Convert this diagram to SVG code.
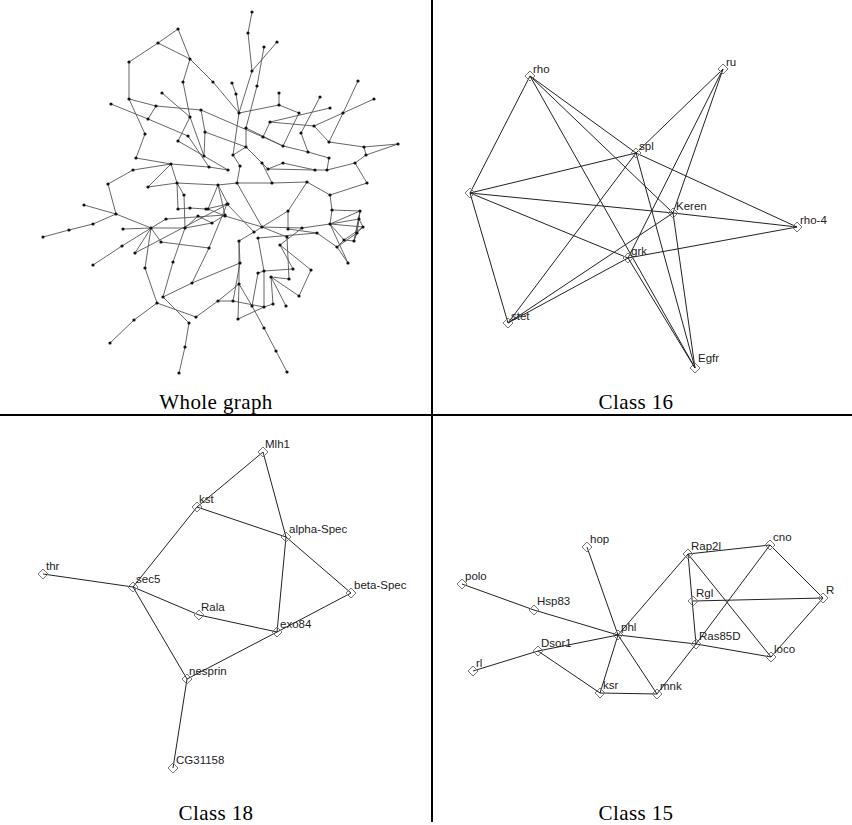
<svg xmlns="http://www.w3.org/2000/svg" xmlns:xlink="http://www.w3.org/1999/xlink" width="852" height="825" viewBox="0 0 852 825">
<style>
.bg{fill:#fff}
.div{stroke:#000;stroke-width:2}
.cap{font-family:"Liberation Serif","DejaVu Serif",serif;font-size:21px;fill:#000;text-anchor:middle;letter-spacing:0.4px}
.we line{stroke:#555;stroke-width:0.9}
.wn circle{fill:#111}
.ce line{stroke:#222;stroke-width:1}
.lab{font-family:"Liberation Sans","DejaVu Sans",sans-serif;font-size:11.5px;fill:#222}
.dm{fill:none;stroke:#777;stroke-width:1}
</style>
<defs>
<polygon id="dia" class="dm" points="0,-5 5,0 0,5 -5,0"/>
</defs>
<rect class="bg" x="0" y="0" width="852" height="825"/>

<!-- Whole graph edges -->
<g id="whole-connectors" class="we">
<line x1="178" y1="29" x2="158" y2="43"/><line x1="158" y1="43" x2="129" y2="62"/><line x1="178" y1="29" x2="190" y2="59"/><line x1="158" y1="43" x2="190" y2="59"/>
<line x1="190" y1="59" x2="183" y2="82"/><line x1="190" y1="59" x2="213" y2="82"/><line x1="213" y1="82" x2="239" y2="113"/><line x1="129" y1="62" x2="129" y2="99"/>
<line x1="129" y1="99" x2="156" y2="106"/><line x1="156" y1="106" x2="201" y2="110"/><line x1="201" y1="110" x2="263" y2="137"/><line x1="129" y1="99" x2="145" y2="134"/>
<line x1="156" y1="106" x2="148" y2="119"/><line x1="111" y1="104" x2="148" y2="119"/><line x1="148" y1="119" x2="188" y2="136"/><line x1="162" y1="93" x2="190" y2="117"/>
<line x1="183" y1="82" x2="190" y2="117"/><line x1="190" y1="117" x2="204" y2="156"/><line x1="205" y1="132" x2="204" y2="156"/><line x1="178" y1="141" x2="204" y2="156"/>
<line x1="204" y1="156" x2="228" y2="170"/><line x1="145" y1="134" x2="136" y2="158"/><line x1="136" y1="158" x2="171" y2="164"/><line x1="133" y1="170" x2="171" y2="164"/>
<line x1="108" y1="184" x2="133" y2="170"/><line x1="148" y1="187" x2="171" y2="164"/><line x1="177" y1="183" x2="171" y2="164"/><line x1="171" y1="164" x2="209" y2="167"/>
<line x1="209" y1="167" x2="228" y2="170"/><line x1="188" y1="136" x2="209" y2="167"/><line x1="178" y1="141" x2="190" y2="117"/><line x1="201" y1="110" x2="205" y2="132"/>
<line x1="252" y1="12" x2="248" y2="33"/><line x1="248" y1="33" x2="252" y2="71"/><line x1="277" y1="42" x2="252" y2="71"/><line x1="264" y1="47" x2="257" y2="86"/>
<line x1="252" y1="71" x2="239" y2="113"/><line x1="257" y1="86" x2="246" y2="128"/><line x1="232" y1="83" x2="236" y2="94"/><line x1="236" y1="94" x2="239" y2="113"/>
<line x1="279" y1="93" x2="279" y2="105"/><line x1="239" y1="113" x2="279" y2="105"/><line x1="279" y1="105" x2="299" y2="113"/><line x1="320" y1="97" x2="301" y2="133"/>
<line x1="330" y1="108" x2="270" y2="122"/><line x1="299" y1="113" x2="283" y2="146"/><line x1="358" y1="81" x2="343" y2="113"/><line x1="343" y1="113" x2="329" y2="142"/>
<line x1="374" y1="99" x2="343" y2="113"/><line x1="343" y1="113" x2="314" y2="126"/><line x1="270" y1="122" x2="263" y2="137"/><line x1="314" y1="126" x2="329" y2="142"/>
<line x1="329" y1="142" x2="364" y2="147"/><line x1="364" y1="147" x2="398" y2="144"/><line x1="364" y1="147" x2="366" y2="155"/><line x1="366" y1="155" x2="355" y2="163"/>
<line x1="308" y1="152" x2="283" y2="146"/><line x1="263" y1="137" x2="283" y2="146"/><line x1="308" y1="152" x2="329" y2="158"/><line x1="246" y1="128" x2="246" y2="147"/>
<line x1="246" y1="147" x2="262" y2="163"/><line x1="239" y1="113" x2="233" y2="155"/><line x1="233" y1="155" x2="240" y2="166"/><line x1="262" y1="163" x2="268" y2="169"/>
<line x1="283" y1="163" x2="268" y2="169"/><line x1="268" y1="169" x2="315" y2="170"/><line x1="315" y1="170" x2="327" y2="170"/><line x1="327" y1="170" x2="355" y2="163"/>
<line x1="355" y1="163" x2="367" y2="183"/><line x1="367" y1="183" x2="330" y2="195"/><line x1="272" y1="183" x2="237" y2="183"/><line x1="237" y1="183" x2="218" y2="185"/>
<line x1="272" y1="183" x2="307" y2="182"/><line x1="307" y1="182" x2="330" y2="195"/><line x1="301" y1="133" x2="308" y2="152"/><line x1="270" y1="122" x2="314" y2="126"/>
<line x1="398" y1="144" x2="366" y2="155"/><line x1="329" y1="158" x2="327" y2="170"/><line x1="246" y1="128" x2="283" y2="146"/><line x1="246" y1="147" x2="233" y2="155"/>
<line x1="283" y1="163" x2="315" y2="170"/><line x1="240" y1="166" x2="237" y2="183"/><line x1="262" y1="163" x2="272" y2="183"/><line x1="205" y1="132" x2="246" y2="147"/>
<line x1="108" y1="184" x2="116" y2="214"/><line x1="84" y1="205" x2="116" y2="214"/><line x1="116" y1="214" x2="93" y2="224"/><line x1="93" y1="224" x2="69" y2="230"/>
<line x1="69" y1="230" x2="43" y2="237"/><line x1="116" y1="214" x2="151" y2="228"/><line x1="123" y1="229" x2="151" y2="228"/><line x1="151" y1="228" x2="185" y2="228"/>
<line x1="151" y1="228" x2="135" y2="253"/><line x1="135" y1="253" x2="228" y2="204"/><line x1="93" y1="265" x2="122" y2="246"/><line x1="122" y1="246" x2="151" y2="228"/>
<line x1="145" y1="268" x2="157" y2="303"/><line x1="151" y1="228" x2="145" y2="268"/><line x1="185" y1="228" x2="173" y2="262"/><line x1="173" y1="262" x2="163" y2="297"/>
<line x1="163" y1="297" x2="189" y2="323"/><line x1="157" y1="303" x2="134" y2="320"/><line x1="134" y1="320" x2="110" y2="343"/><line x1="157" y1="303" x2="196" y2="317"/>
<line x1="196" y1="317" x2="218" y2="301"/><line x1="189" y1="323" x2="185" y2="347"/><line x1="185" y1="347" x2="179" y2="373"/><line x1="209" y1="248" x2="192" y2="283"/>
<line x1="209" y1="248" x2="227" y2="204"/><line x1="177" y1="183" x2="178" y2="209"/><line x1="178" y1="209" x2="190" y2="208"/><line x1="190" y1="208" x2="206" y2="209"/>
<line x1="206" y1="209" x2="228" y2="204"/><line x1="198" y1="216" x2="212" y2="223"/><line x1="212" y1="223" x2="225" y2="215"/><line x1="185" y1="228" x2="198" y2="216"/>
<line x1="185" y1="228" x2="184" y2="195"/><line x1="184" y1="195" x2="177" y2="183"/><line x1="166" y1="219" x2="151" y2="228"/><line x1="166" y1="219" x2="225" y2="215"/>
<line x1="228" y1="204" x2="218" y2="185"/><line x1="225" y1="215" x2="218" y2="185"/><line x1="161" y1="242" x2="151" y2="228"/><line x1="161" y1="242" x2="209" y2="248"/>
<line x1="192" y1="283" x2="163" y2="297"/><line x1="177" y1="183" x2="218" y2="185"/><line x1="148" y1="187" x2="177" y2="183"/><line x1="185" y1="228" x2="212" y2="223"/>
<line x1="237" y1="183" x2="262" y2="227"/><line x1="307" y1="182" x2="288" y2="211"/><line x1="288" y1="211" x2="262" y2="227"/><line x1="330" y1="195" x2="332" y2="210"/>
<line x1="332" y1="210" x2="330" y2="224"/><line x1="288" y1="211" x2="288" y2="229"/><line x1="262" y1="227" x2="302" y2="228"/><line x1="302" y1="228" x2="330" y2="224"/>
<line x1="330" y1="224" x2="360" y2="211"/><line x1="330" y1="224" x2="359" y2="219"/><line x1="330" y1="224" x2="363" y2="227"/><line x1="360" y1="211" x2="359" y2="219"/>
<line x1="359" y1="219" x2="363" y2="227"/><line x1="363" y1="227" x2="357" y2="233"/><line x1="357" y1="233" x2="354" y2="241"/><line x1="354" y1="241" x2="344" y2="240"/>
<line x1="344" y1="240" x2="337" y2="247"/><line x1="360" y1="211" x2="357" y2="233"/><line x1="359" y1="219" x2="354" y2="241"/><line x1="332" y1="210" x2="360" y2="211"/>
<line x1="330" y1="224" x2="344" y2="240"/><line x1="363" y1="227" x2="344" y2="240"/><line x1="360" y1="211" x2="354" y2="241"/><line x1="357" y1="233" x2="337" y2="247"/>
<line x1="337" y1="247" x2="348" y2="263"/><line x1="348" y1="263" x2="330" y2="224"/><line x1="317" y1="233" x2="258" y2="238"/><line x1="311" y1="270" x2="280" y2="245"/>
<line x1="287" y1="237" x2="262" y2="227"/><line x1="239" y1="241" x2="239" y2="284"/><line x1="239" y1="284" x2="238" y2="319"/><line x1="239" y1="284" x2="218" y2="301"/>
<line x1="238" y1="319" x2="264" y2="307"/><line x1="252" y1="306" x2="264" y2="328"/><line x1="264" y1="328" x2="276" y2="351"/><line x1="276" y1="351" x2="287" y2="372"/>
<line x1="252" y1="306" x2="239" y2="284"/><line x1="258" y1="238" x2="264" y2="271"/><line x1="264" y1="271" x2="264" y2="307"/><line x1="264" y1="271" x2="293" y2="269"/>
<line x1="271" y1="277" x2="289" y2="279"/><line x1="271" y1="277" x2="273" y2="304"/><line x1="271" y1="277" x2="299" y2="296"/><line x1="258" y1="273" x2="252" y2="306"/>
<line x1="233" y1="301" x2="264" y2="307"/><line x1="208" y1="209" x2="225" y2="216"/><line x1="225" y1="216" x2="262" y2="227"/><line x1="227" y1="204" x2="254" y2="232"/>
<line x1="254" y1="232" x2="262" y2="227"/><line x1="239" y1="241" x2="254" y2="232"/><line x1="240" y1="263" x2="239" y2="241"/><line x1="240" y1="263" x2="192" y2="283"/>
<line x1="280" y1="245" x2="302" y2="228"/><line x1="288" y1="229" x2="317" y2="233"/><line x1="317" y1="233" x2="337" y2="247"/><line x1="299" y1="296" x2="311" y2="270"/>
<line x1="293" y1="269" x2="280" y2="245"/><line x1="289" y1="279" x2="287" y2="237"/><line x1="286" y1="306" x2="271" y2="277"/><line x1="273" y1="304" x2="264" y2="307"/>
<line x1="218" y1="301" x2="233" y2="301"/><line x1="233" y1="301" x2="240" y2="263"/><line x1="208" y1="209" x2="218" y2="185"/><line x1="258" y1="273" x2="264" y2="271"/>
</g>

<!-- Whole graph nodes -->
<g id="whole-nodes" class="wn">
<circle cx="178" cy="29" r="1.6"/><circle cx="158" cy="43" r="1.6"/><circle cx="129" cy="62" r="1.6"/><circle cx="190" cy="59" r="1.6"/><circle cx="183" cy="82" r="1.6"/>
<circle cx="213" cy="82" r="1.6"/><circle cx="129" cy="99" r="1.6"/><circle cx="111" cy="104" r="1.6"/><circle cx="162" cy="93" r="1.6"/><circle cx="156" cy="106" r="1.6"/>
<circle cx="201" cy="110" r="1.6"/><circle cx="148" cy="119" r="1.6"/><circle cx="190" cy="117" r="1.6"/><circle cx="145" cy="134" r="1.6"/><circle cx="188" cy="136" r="1.6"/>
<circle cx="178" cy="141" r="1.6"/><circle cx="205" cy="132" r="1.6"/><circle cx="204" cy="156" r="1.6"/><circle cx="136" cy="158" r="1.6"/><circle cx="171" cy="164" r="1.6"/>
<circle cx="133" cy="170" r="1.6"/><circle cx="108" cy="184" r="1.6"/><circle cx="148" cy="187" r="1.6"/><circle cx="177" cy="183" r="1.6"/><circle cx="209" cy="167" r="1.6"/>
<circle cx="228" cy="170" r="1.6"/><circle cx="218" cy="185" r="1.6"/><circle cx="252" cy="12" r="1.6"/><circle cx="248" cy="33" r="1.6"/><circle cx="264" cy="47" r="1.6"/>
<circle cx="277" cy="42" r="1.6"/><circle cx="252" cy="71" r="1.6"/><circle cx="257" cy="86" r="1.6"/><circle cx="232" cy="83" r="1.6"/><circle cx="236" cy="94" r="1.6"/>
<circle cx="279" cy="93" r="1.6"/><circle cx="239" cy="113" r="1.6"/><circle cx="279" cy="105" r="1.6"/><circle cx="320" cy="97" r="1.6"/><circle cx="330" cy="108" r="1.6"/>
<circle cx="299" cy="113" r="1.6"/><circle cx="358" cy="81" r="1.6"/><circle cx="374" cy="99" r="1.6"/><circle cx="343" cy="113" r="1.6"/><circle cx="246" cy="128" r="1.6"/>
<circle cx="270" cy="122" r="1.6"/><circle cx="314" cy="126" r="1.6"/><circle cx="263" cy="137" r="1.6"/><circle cx="301" cy="133" r="1.6"/><circle cx="283" cy="146" r="1.6"/>
<circle cx="329" cy="142" r="1.6"/><circle cx="364" cy="147" r="1.6"/><circle cx="398" cy="144" r="1.6"/><circle cx="366" cy="155" r="1.6"/><circle cx="308" cy="152" r="1.6"/>
<circle cx="246" cy="147" r="1.6"/><circle cx="233" cy="155" r="1.6"/><circle cx="329" cy="158" r="1.6"/><circle cx="355" cy="163" r="1.6"/><circle cx="262" cy="163" r="1.6"/>
<circle cx="283" cy="163" r="1.6"/><circle cx="240" cy="166" r="1.6"/><circle cx="268" cy="169" r="1.6"/><circle cx="327" cy="170" r="1.6"/><circle cx="315" cy="170" r="1.6"/>
<circle cx="367" cy="183" r="1.6"/><circle cx="272" cy="183" r="1.6"/><circle cx="237" cy="183" r="1.6"/><circle cx="307" cy="182" r="1.6"/><circle cx="330" cy="195" r="1.6"/>
<circle cx="84" cy="205" r="1.6"/><circle cx="116" cy="214" r="1.6"/><circle cx="93" cy="224" r="1.6"/><circle cx="69" cy="230" r="1.6"/><circle cx="43" cy="237" r="1.6"/>
<circle cx="123" cy="229" r="1.6"/><circle cx="151" cy="228" r="1.6"/><circle cx="166" cy="219" r="1.6"/><circle cx="185" cy="228" r="1.6"/><circle cx="190" cy="208" r="1.6"/>
<circle cx="178" cy="209" r="1.6"/><circle cx="198" cy="216" r="1.6"/><circle cx="212" cy="223" r="1.6"/><circle cx="225" cy="215" r="1.6"/><circle cx="228" cy="204" r="1.6"/>
<circle cx="206" cy="209" r="1.6"/><circle cx="184" cy="195" r="1.6"/><circle cx="161" cy="242" r="1.6"/><circle cx="135" cy="253" r="1.6"/><circle cx="122" cy="246" r="1.6"/>
<circle cx="93" cy="265" r="1.6"/><circle cx="145" cy="268" r="1.6"/><circle cx="173" cy="262" r="1.6"/><circle cx="209" cy="248" r="1.6"/><circle cx="192" cy="283" r="1.6"/>
<circle cx="163" cy="297" r="1.6"/><circle cx="157" cy="303" r="1.6"/><circle cx="218" cy="301" r="1.6"/><circle cx="196" cy="317" r="1.6"/><circle cx="189" cy="323" r="1.6"/>
<circle cx="134" cy="320" r="1.6"/><circle cx="110" cy="343" r="1.6"/><circle cx="185" cy="347" r="1.6"/><circle cx="179" cy="373" r="1.6"/><circle cx="208" cy="209" r="1.6"/>
<circle cx="227" cy="204" r="1.6"/><circle cx="288" cy="211" r="1.6"/><circle cx="225" cy="216" r="1.6"/><circle cx="262" cy="227" r="1.6"/><circle cx="254" cy="232" r="1.6"/>
<circle cx="288" cy="229" r="1.6"/><circle cx="302" cy="228" r="1.6"/><circle cx="317" cy="233" r="1.6"/><circle cx="332" cy="210" r="1.6"/><circle cx="330" cy="224" r="1.6"/>
<circle cx="360" cy="211" r="1.6"/><circle cx="359" cy="219" r="1.6"/><circle cx="363" cy="227" r="1.6"/><circle cx="357" cy="233" r="1.6"/><circle cx="354" cy="241" r="1.6"/>
<circle cx="344" cy="240" r="1.6"/><circle cx="337" cy="247" r="1.6"/><circle cx="348" cy="263" r="1.6"/><circle cx="311" cy="270" r="1.6"/><circle cx="280" cy="245" r="1.6"/>
<circle cx="287" cy="237" r="1.6"/><circle cx="239" cy="241" r="1.6"/><circle cx="258" cy="238" r="1.6"/><circle cx="240" cy="263" r="1.6"/><circle cx="258" cy="273" r="1.6"/>
<circle cx="264" cy="271" r="1.6"/><circle cx="293" cy="269" r="1.6"/><circle cx="271" cy="277" r="1.6"/><circle cx="289" cy="279" r="1.6"/><circle cx="239" cy="284" r="1.6"/>
<circle cx="299" cy="296" r="1.6"/><circle cx="252" cy="306" r="1.6"/><circle cx="264" cy="307" r="1.6"/><circle cx="273" cy="304" r="1.6"/><circle cx="286" cy="306" r="1.6"/>
<circle cx="233" cy="301" r="1.6"/><circle cx="238" cy="319" r="1.6"/><circle cx="264" cy="328" r="1.6"/><circle cx="276" cy="351" r="1.6"/><circle cx="287" cy="372" r="1.6"/>
</g>

<!-- Class 16 connectors -->
<g id="c16-connectors" class="ce">
<line x1="530" y1="76" x2="470" y2="193"/><line x1="530" y1="76" x2="636" y2="153"/><line x1="530" y1="76" x2="673" y2="213"/><line x1="530" y1="76" x2="695" y2="368"/>
<line x1="723" y1="69" x2="636" y2="153"/><line x1="723" y1="69" x2="628" y2="258"/><line x1="723" y1="69" x2="673" y2="213"/>
<line x1="470" y1="193" x2="636" y2="153"/><line x1="470" y1="193" x2="673" y2="213"/><line x1="673" y1="213" x2="797" y2="227"/><line x1="470" y1="193" x2="628" y2="258"/><line x1="470" y1="193" x2="508" y2="323"/>
<line x1="636" y1="153" x2="695" y2="368"/><line x1="636" y1="153" x2="797" y2="227"/><line x1="636" y1="153" x2="508" y2="323"/>
<line x1="628" y1="258" x2="797" y2="227"/><line x1="628" y1="258" x2="695" y2="368"/><line x1="628" y1="258" x2="508" y2="323"/>
<line x1="508" y1="323" x2="673" y2="213"/><line x1="673" y1="213" x2="695" y2="368"/>
</g>
<g id="c16-rho"><use xlink:href="#dia" x="530" y="76"/><text class="lab" x="533" y="73">rho</text></g>
<g id="c16-ru"><use xlink:href="#dia" x="723" y="69"/><text class="lab" x="726" y="66">ru</text></g>
<g id="c16-spl"><use xlink:href="#dia" x="636" y="153"/><text class="lab" x="639" y="150">spl</text></g>
<g id="c16-left"><use xlink:href="#dia" x="470" y="193"/></g>
<g id="c16-Keren"><use xlink:href="#dia" x="673" y="213"/><text class="lab" x="676" y="210">Keren</text></g>
<g id="c16-rho4"><use xlink:href="#dia" x="797" y="227"/><text class="lab" x="800" y="224">rho-4</text></g>
<g id="c16-grk"><use xlink:href="#dia" x="628" y="258"/><text class="lab" x="631" y="255">grk</text></g>
<g id="c16-stet"><use xlink:href="#dia" x="508" y="323"/><text class="lab" x="511" y="320">stet</text></g>
<g id="c16-Egfr"><use xlink:href="#dia" x="695" y="368"/><text class="lab" x="698" y="362">Egfr</text></g>

<!-- Class 18 connectors -->
<g id="c18-connectors" class="ce">
<line x1="263" y1="452" x2="197" y2="507"/><line x1="263" y1="452" x2="286" y2="537"/><line x1="197" y1="507" x2="286" y2="537"/><line x1="197" y1="507" x2="133" y2="587"/>
<line x1="286" y1="537" x2="351" y2="593"/><line x1="286" y1="537" x2="277" y2="632"/><line x1="351" y1="593" x2="277" y2="632"/><line x1="43" y1="574" x2="133" y2="587"/>
<line x1="133" y1="587" x2="199" y2="615"/><line x1="199" y1="615" x2="277" y2="632"/><line x1="133" y1="587" x2="187" y2="679"/><line x1="187" y1="679" x2="277" y2="632"/>
<line x1="187" y1="679" x2="173" y2="768"/>
</g>
<g id="c18-Mlh1"><use xlink:href="#dia" x="263" y="452"/><text class="lab" x="265" y="448">Mlh1</text></g>
<g id="c18-kst"><use xlink:href="#dia" x="197" y="507"/><text class="lab" x="199" y="503">kst</text></g>
<g id="c18-alphaSpec"><use xlink:href="#dia" x="286" y="537"/><text class="lab" x="289" y="533">alpha-Spec</text></g>
<g id="c18-betaSpec"><use xlink:href="#dia" x="351" y="593"/><text class="lab" x="354" y="589">beta-Spec</text></g>
<g id="c18-thr"><use xlink:href="#dia" x="43" y="574"/><text class="lab" x="46" y="570">thr</text></g>
<g id="c18-sec5"><use xlink:href="#dia" x="133" y="587"/><text class="lab" x="136" y="583">sec5</text></g>
<g id="c18-Rala"><use xlink:href="#dia" x="199" y="615"/><text class="lab" x="201" y="611">Rala</text></g>
<g id="c18-exo84"><use xlink:href="#dia" x="277" y="632"/><text class="lab" x="280" y="628">exo84</text></g>
<g id="c18-nesprin"><use xlink:href="#dia" x="187" y="679"/><text class="lab" x="189" y="675">nesprin</text></g>
<g id="c18-CG31158"><use xlink:href="#dia" x="173" y="768"/><text class="lab" x="176" y="764">CG31158</text></g>

<!-- Class 15 connectors -->
<g id="c15-connectors" class="ce">
<line x1="462" y1="584" x2="534" y2="610"/><line x1="534" y1="610" x2="618" y2="635"/><line x1="587" y1="547" x2="618" y2="635"/><line x1="473" y1="671" x2="538" y2="651"/>
<line x1="538" y1="651" x2="618" y2="635"/><line x1="538" y1="651" x2="600" y2="693"/><line x1="618" y1="635" x2="600" y2="693"/><line x1="618" y1="635" x2="657" y2="694"/>
<line x1="618" y1="635" x2="688" y2="554"/><line x1="618" y1="635" x2="696" y2="644"/><line x1="600" y1="693" x2="657" y2="694"/><line x1="657" y1="694" x2="696" y2="644"/>
<line x1="688" y1="554" x2="770" y2="545"/><line x1="688" y1="554" x2="696" y2="644"/><line x1="688" y1="554" x2="771" y2="657"/><line x1="770" y1="545" x2="823" y2="598"/>
<line x1="770" y1="545" x2="696" y2="644"/><line x1="693" y1="601" x2="823" y2="598"/><line x1="823" y1="598" x2="771" y2="657"/><line x1="696" y1="644" x2="771" y2="657"/>
</g>
<g id="c15-hop"><use xlink:href="#dia" x="587" y="547"/><text class="lab" x="590" y="543">hop</text></g>
<g id="c15-polo"><use xlink:href="#dia" x="462" y="584"/><text class="lab" x="465" y="580">polo</text></g>
<g id="c15-Hsp83"><use xlink:href="#dia" x="534" y="610"/><text class="lab" x="537" y="605">Hsp83</text></g>
<g id="c15-phl"><use xlink:href="#dia" x="618" y="635"/><text class="lab" x="621" y="631">phl</text></g>
<g id="c15-Dsor1"><use xlink:href="#dia" x="538" y="651"/><text class="lab" x="541" y="647">Dsor1</text></g>
<g id="c15-rl"><use xlink:href="#dia" x="473" y="671"/><text class="lab" x="476" y="667">rl</text></g>
<g id="c15-Rap2l"><use xlink:href="#dia" x="688" y="554"/><text class="lab" x="691" y="550">Rap2l</text></g>
<g id="c15-cno"><use xlink:href="#dia" x="770" y="545"/><text class="lab" x="773" y="541">cno</text></g>
<g id="c15-Rgl"><use xlink:href="#dia" x="693" y="601"/><text class="lab" x="696" y="597">Rgl</text></g>
<g id="c15-R"><use xlink:href="#dia" x="823" y="598"/><text class="lab" x="826" y="594">R</text></g>
<g id="c15-Ras85D"><use xlink:href="#dia" x="696" y="644"/><text class="lab" x="699" y="640">Ras85D</text></g>
<g id="c15-loco"><use xlink:href="#dia" x="771" y="657"/><text class="lab" x="774" y="653">loco</text></g>
<g id="c15-ksr"><use xlink:href="#dia" x="600" y="693"/><text class="lab" x="603" y="689">ksr</text></g>
<g id="c15-mnk"><use xlink:href="#dia" x="657" y="694"/><text class="lab" x="660" y="690">mnk</text></g>

<!-- Dividers and captions -->
<g id="frame">
<line class="div" x1="0" y1="415" x2="852" y2="415"/>
<line class="div" x1="432" y1="0" x2="432" y2="822"/>
</g>
<text class="cap" x="216" y="409">Whole graph</text>
<text class="cap" x="636" y="409">Class 16</text>
<text class="cap" x="216" y="820">Class 18</text>
<text class="cap" x="636" y="820">Class 15</text>
</svg>
